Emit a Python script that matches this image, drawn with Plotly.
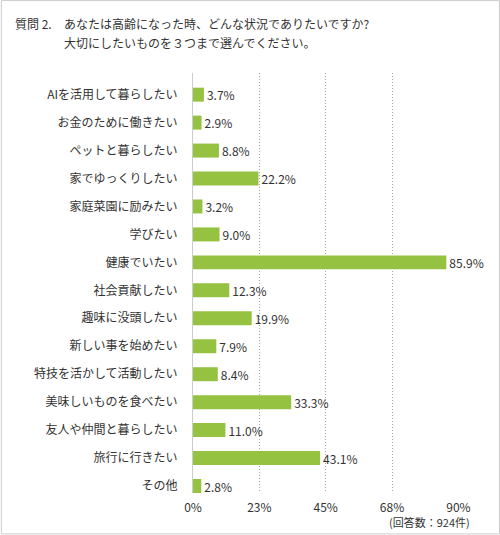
import plotly.graph_objects as go

categories = [
    "AIを活用して暮らしたい", "お金のために働きたい", "ペットと暮らしたい", "家でゆっくりしたい",
    "家庭菜園に励みたい", "学びたい", "健康でいたい", "社会貢献したい", "趣味に没頭したい",
    "新しい事を始めたい", "特技を活かして活動したい", "美味しいものを食べたい",
    "友人や仲間と暮らしたい", "旅行に行きたい", "その他",
]
values = [3.7, 2.9, 8.8, 22.2, 3.2, 9.0, 85.9, 12.3, 19.9, 7.9, 8.4, 33.3, 11.0, 43.1, 2.8]
tick_vals = [0, 22.5, 45, 67.5, 90]
tick_text = ["0%", "23%", "45%", "68%", "90%"]
title_label = "質問 2."
title_line1 = "あなたは高齢になった時、どんな状況でありたいですか?"
title_line2 = "大切にしたいものを３つまで選んでください。"
note_text = "(回答数：924件)"

W, H = 500, 535
L, R, T, B = 192.5, 41, 73, 41.5
PW, PH = W - L - R, H - T - B
FONT = "Noto Sans CJK JP"
TXT = "#333333"

def px(x):
    return (x - L) / PW

def py(y):
    return (H - B - y) / PH

fig = go.Figure(go.Bar(
    x=values, y=categories, orientation="h",
    marker=dict(color="#95c240", line=dict(width=0)),
    width=0.5,
    text=[f"{v:.1f}%" for v in values], textposition="outside",
    constraintext="none",
    textfont=dict(family=FONT, size=12, color=TXT),
    cliponaxis=False,
))

fig.update_layout(
    width=W, height=H,
    margin=dict(l=L, r=R, t=T, b=B, pad=0),
    paper_bgcolor="white", plot_bgcolor="white",
    showlegend=False,
    font=dict(family=FONT, size=12, color=TXT),
    xaxis=dict(
        range=[0, 90.2], tickvals=tick_vals, ticktext=tick_text,
        showgrid=True, gridcolor="#a6a6a6", griddash="1px,2px", gridwidth=1,
        zeroline=False, showline=False, ticks="outside", ticklen=4,
        tickcolor="rgba(0,0,0,0)", tickfont=dict(size=12, color=TXT),
        fixedrange=True,
    ),
    yaxis=dict(
        categoryorder="array", categoryarray=categories,
        range=[14.25, -0.775], showgrid=False, zeroline=False,
        showline=True, linecolor="#cccccc", linewidth=1,
        ticks="outside", ticklen=12, tickcolor="rgba(0,0,0,0)",
        tickfont=dict(size=12, color=TXT), fixedrange=True,
    ),
    annotations=[
        dict(text=title_label, xref="paper", yref="paper", x=px(12), y=py(23),
             xanchor="left", yanchor="middle", showarrow=False,
             font=dict(size=12, color=TXT)),
        dict(text=title_line1, xref="paper", yref="paper", x=px(61.5), y=py(23),
             xanchor="left", yanchor="middle", showarrow=False,
             font=dict(size=12, color=TXT)),
        dict(text=title_line2, xref="paper", yref="paper", x=px(61.5), y=py(42),
             xanchor="left", yanchor="middle", showarrow=False,
             font=dict(size=12, color=TXT)),
        dict(text=note_text, xref="paper", yref="paper", x=px(472), y=py(523),
             xanchor="right", yanchor="middle", showarrow=False,
             font=dict(size=11, color=TXT)),
    ],
    shapes=[
        dict(type="rect", xref="paper", yref="paper",
             x0=px(0.5), x1=px(499.5), y0=py(0.5), y1=py(534.5),
             line=dict(color="#cccccc", width=1), fillcolor="rgba(0,0,0,0)",
             layer="below"),
    ],
)

fig.write_html("out.html", config={"displayModeBar": False},
               post_script="document.body.style.margin='0';document.body.style.overflow='hidden';")
